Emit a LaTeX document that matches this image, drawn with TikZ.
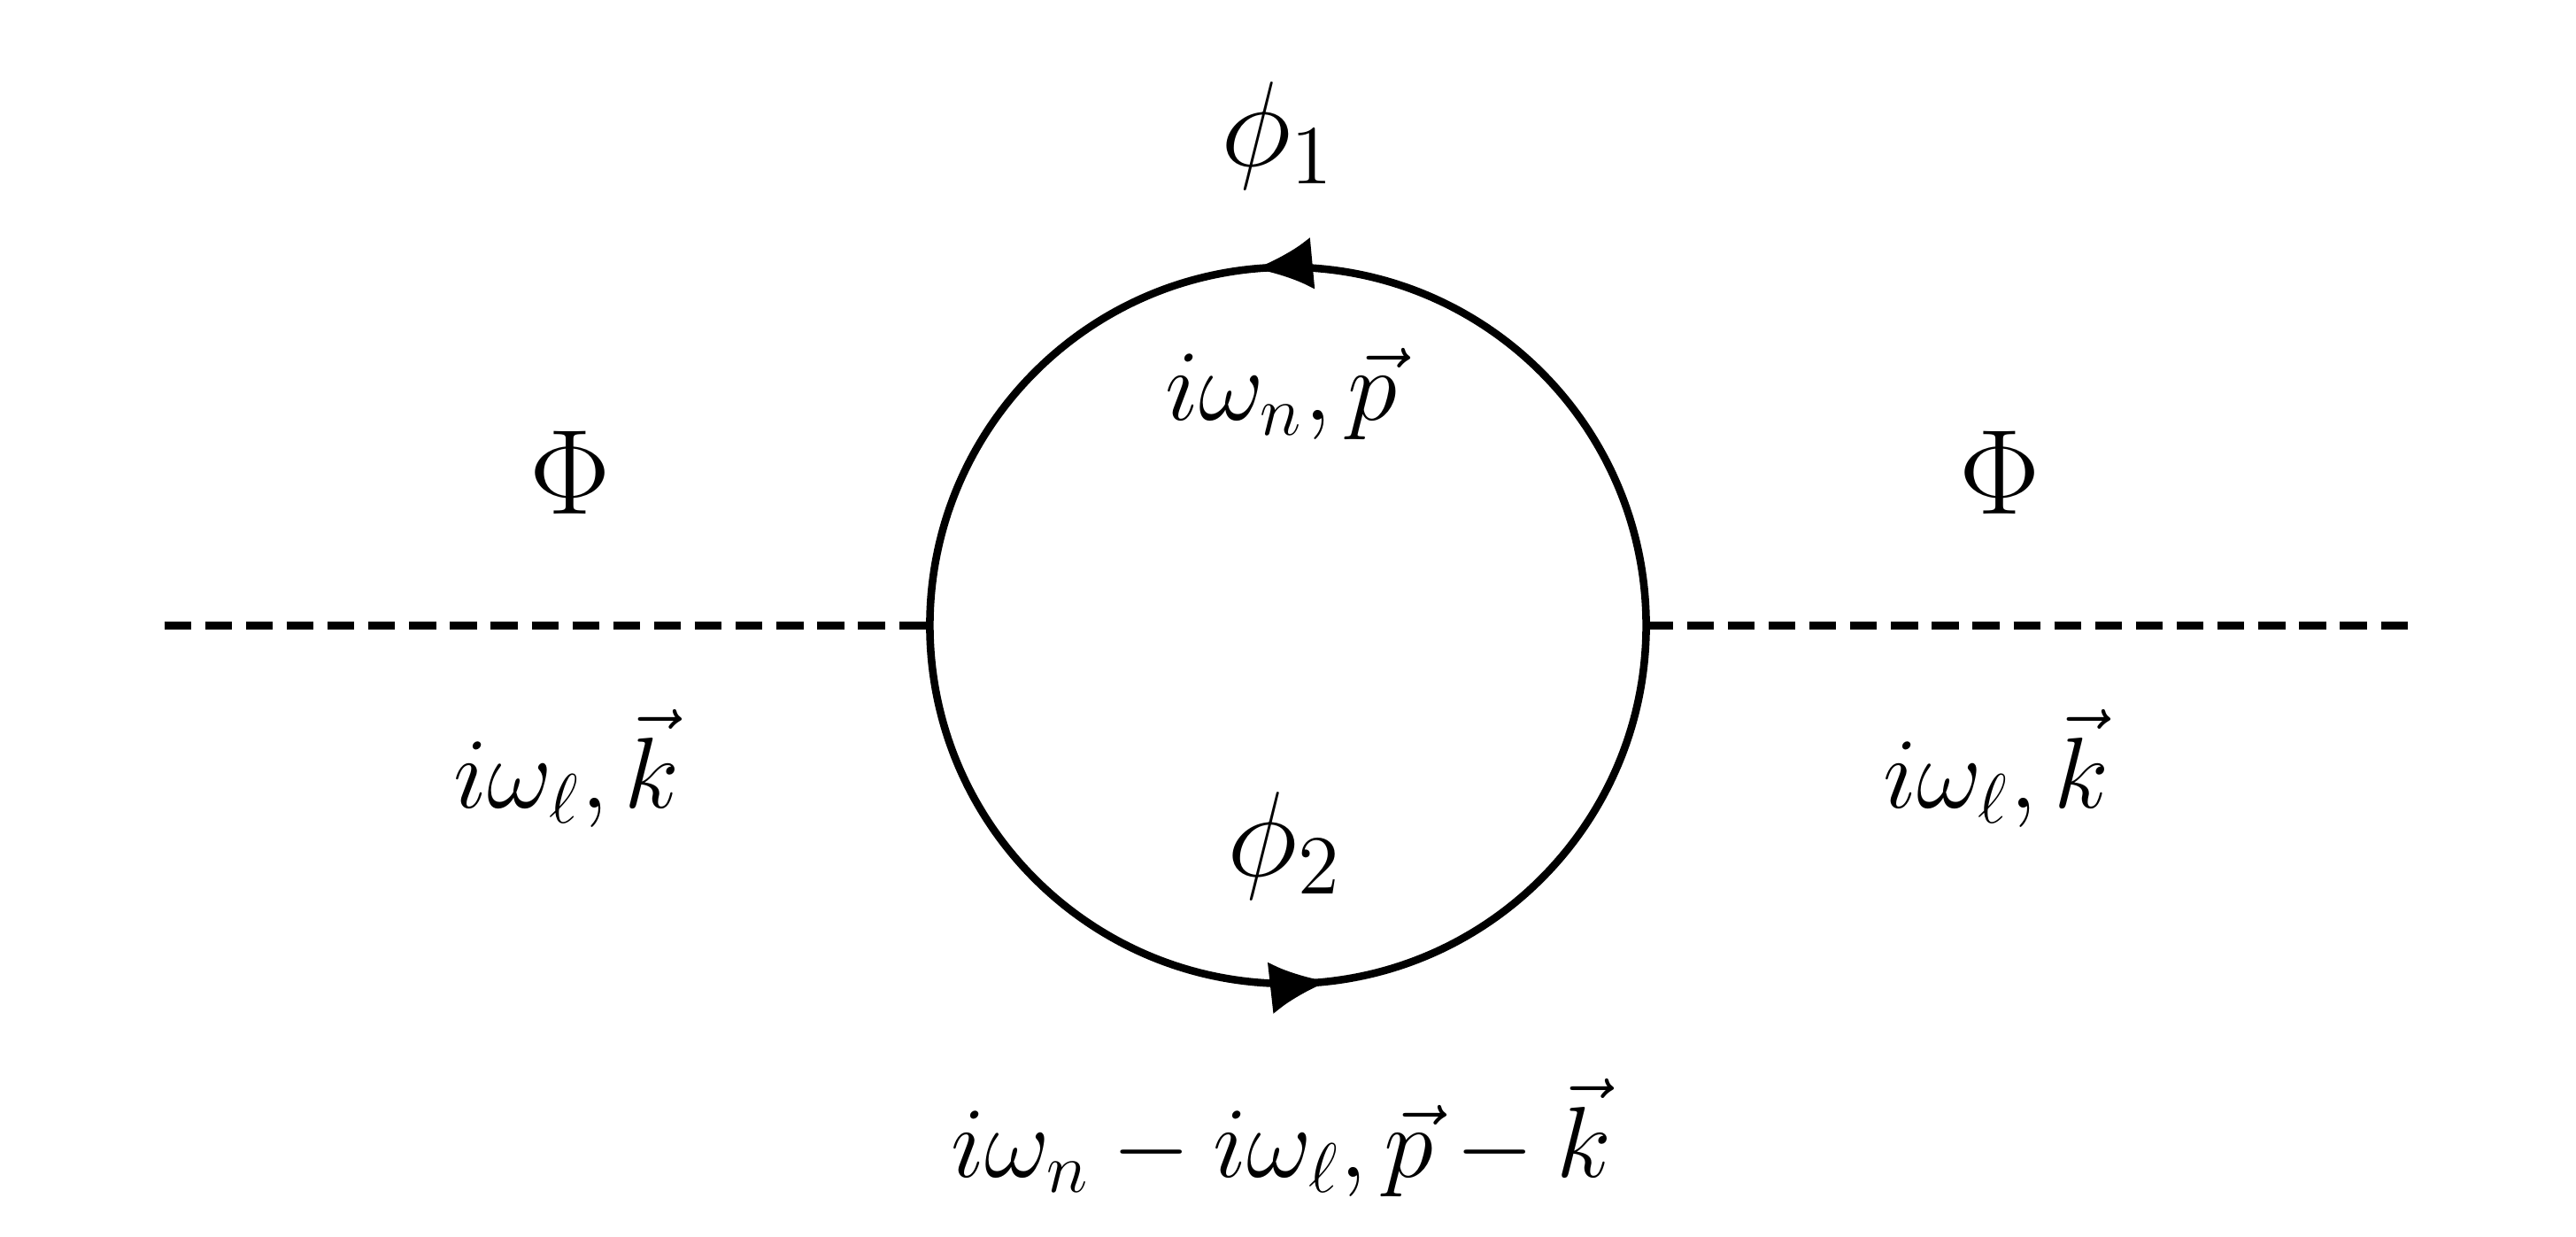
\documentclass[tikz,border=0pt]{standalone}
\usetikzlibrary{decorations.markings,arrows.meta}
\begin{document}
\begin{tikzpicture}[x=0.0099cm,y=0.0099cm,
  lbl/.style={font=\fontsize{17}{20}\selectfont},
  big/.style={font=\fontsize{22}{26}\selectfont},
  prop/.style={line width=1.3pt},
  scal/.style={line width=1.3pt,dash pattern=on 4.6pt off 2.4pt}]
\useasboundingbox (0,0) rectangle (1568,752.6);
\coordinate (c) at (784,372);
\coordinate (vl) at (566,372);
\coordinate (vr) at (1002,372);
\coordinate (el) at (100,372);
\coordinate (er) at (1468,372);
\draw[prop,decoration={markings,
  mark=at position 0.265 with {\arrow{Latex[length=10pt,width=9pt]}},
  mark=at position 0.768 with {\arrow{Latex[length=10pt,width=9pt]}}},postaction={decorate}]
  (c) circle[radius=218];
\draw[scal] (el) -- (vl);
\draw[scal] (vr) -- (er);
\node[big] (p1) at (778,670) {$\phi_1$};
\node[lbl] (k1) at (780,513) {$i\omega_n,\vec p$};
\node[big] (PL) at (347,465) {$\Phi$};
\node[big] (PR) at (1217,465) {$\Phi$};
\node[lbl] (kl) at (345,285) {$i\omega_\ell,\vec k$};
\node[lbl] (kr) at (1215,285) {$i\omega_\ell,\vec k$};
\node[big] (p2) at (782,238) {$\phi_2$};
\node[lbl] (k2) at (780,60) {$i\omega_n-i\omega_\ell,\vec p-\vec k$};
\end{tikzpicture}
\end{document}
